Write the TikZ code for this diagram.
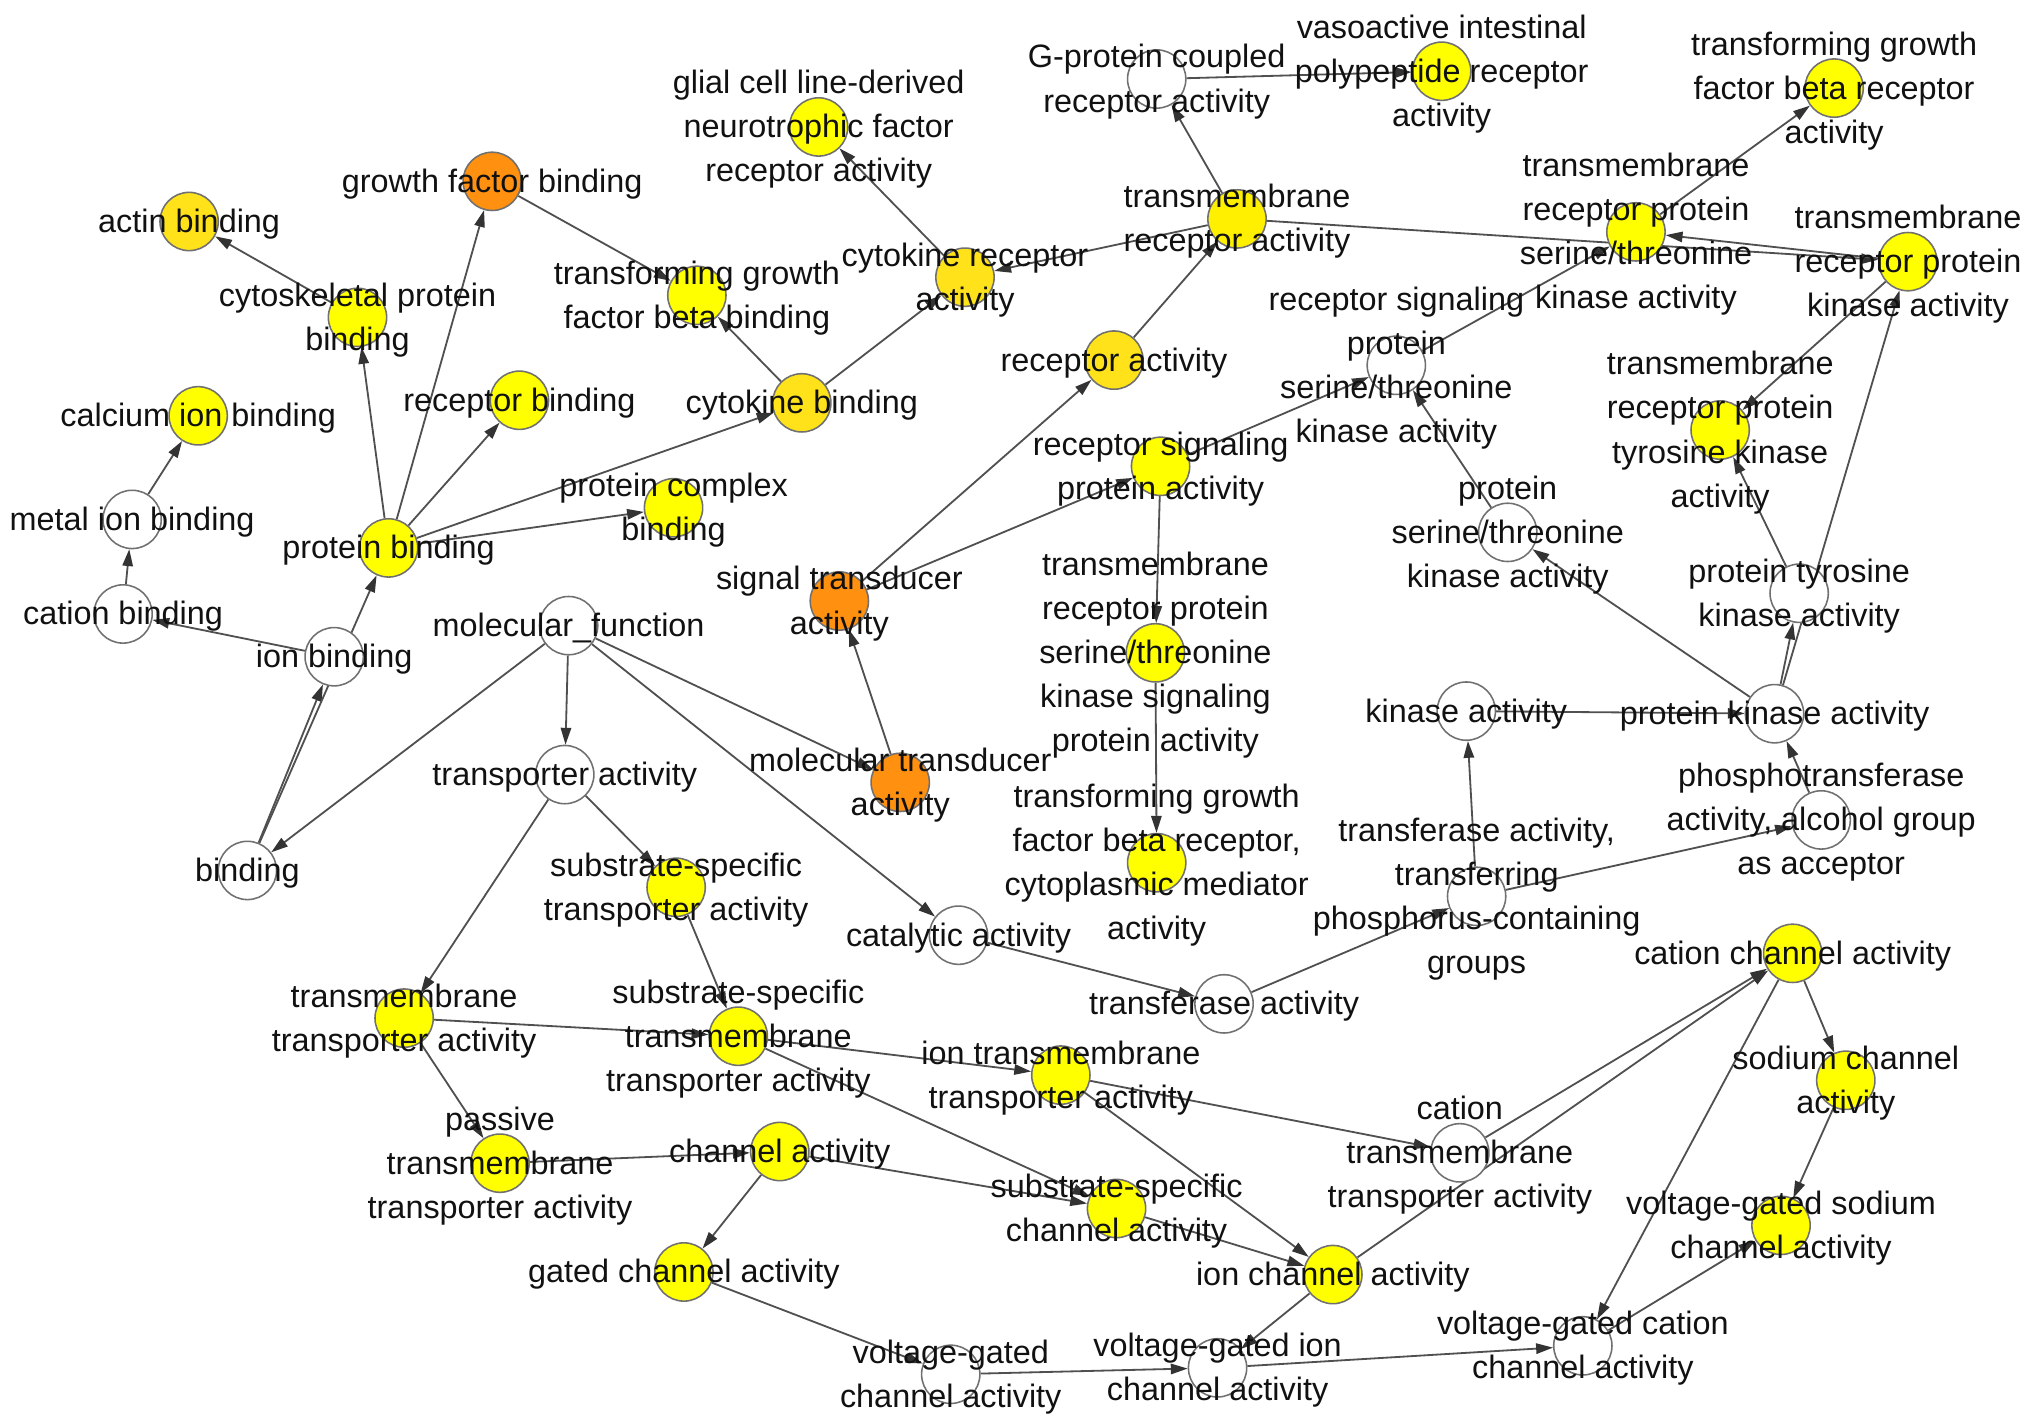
\documentclass[tikz,border=0pt]{standalone}
\usepackage{fontspec}
\setmainfont{Liberation Sans}
\usetikzlibrary{arrows.meta}
\pgfdeclarelayer{bg}\pgfdeclarelayer{fg}\pgfsetlayers{bg,main,fg}
\definecolor{yel}{HTML}{FFFF00}
\definecolor{yelb}{HTML}{FFF000}
\definecolor{gold}{HTML}{FFE21A}
\definecolor{orng}{HTML}{FF9010}
\definecolor{nodeline}{HTML}{707070}
\definecolor{edgec}{HTML}{505050}
\definecolor{txt}{HTML}{111111}
\tikzset{
  go/.style={circle, draw=nodeline, line width=1.2pt, minimum size=45pt, inner sep=0pt},
  wnode/.style={go, fill=white},
  ynode/.style={go, fill=yel},
  bnode/.style={go, fill=yelb},
  gnode/.style={go, fill=gold},
  onode/.style={go, fill=orng},
  lbl/.style={align=center, inner sep=0pt, yshift=-2pt, font=\fontsize{25}{34}\selectfont, text=txt},
  edge/.style={draw=edgec, line width=1.4pt, -{Triangle[length=13pt,width=8pt,color=black!80]}},
}
\newcommand\gonode[4]{%
  \node[#1] (#2) at (#3) {};%
  \begin{pgfonlayer}{fg}\node[lbl] (#2-l) at (#2) {#4};\end{pgfonlayer}}
\begin{document}
\begin{tikzpicture}[x=1pt,y=-1pt]
\useasboundingbox (0,0) rectangle (1568,1101);
\begin{pgfonlayer}{bg}\fill[white] (0,0) rectangle (1568,1101);\end{pgfonlayer}

\gonode{gnode}{actin}{146,171}{actin binding}
\gonode{onode}{gfb}{380,140}{growth factor binding}
\gonode{ynode}{cyto}{276,245}{cytoskeletal protein\\binding}
\gonode{ynode}{calc}{153,321}{calcium ion binding}
\gonode{ynode}{recb}{401,309}{receptor binding}
\gonode{wnode}{metal}{102,401}{metal ion binding}
\gonode{ynode}{pb}{300,423}{protein binding}
\gonode{wnode}{catb}{95,474}{cation binding}
\gonode{wnode}{ionb}{258,507}{ion binding}
\gonode{wnode}{bind}{191,672}{binding}
\gonode{wnode}{mf}{439,483}{molecular\_function}
\gonode{wnode}{transp}{436,598}{transporter activity}
\gonode{ynode}{pcb}{520,392}{protein complex\\binding}
\gonode{ynode}{tgfbb}{538,228}{transforming growth\\factor beta binding}
\gonode{gnode}{cytb}{619,311}{cytokine binding}
\gonode{ynode}{glial}{632,98}{glial cell line-derived\\neurotrophic factor\\receptor activity}
\gonode{gnode}{cytr}{745,214}{cytokine receptor\\activity}
\gonode{wnode}{gpcr}{893,61}{G-protein coupled\\receptor activity}
\gonode{ynode}{vip}{1113,55}{vasoactive intestinal\\polypeptide receptor\\activity}
\gonode{bnode}{tra}{955,169}{transmembrane\\receptor activity}
\gonode{gnode}{ra}{860,278}{receptor activity}
\gonode{onode}{st}{648,464}{signal transducer\\activity}
\gonode{onode}{mt}{695,604}{molecular transducer\\activity}
\gonode{ynode}{rspa}{896,360}{receptor signaling\\protein activity}
\gonode{ynode}{trpsksp}{892,504}{transmembrane\\receptor protein\\serine/threonine\\kinase signaling\\protein activity}
\gonode{ynode}{tgfbrcm}{893,666}{transforming growth\\factor beta receptor,\\cytoplasmic mediator\\activity}
\gonode{wnode}{rspstk}{1078,282}{receptor signaling\\protein\\serine/threonine\\kinase activity}
\gonode{ynode}{trpstk}{1263,179}{transmembrane\\receptor protein\\serine/threonine\\kinase activity}
\gonode{ynode}{tgfbr}{1416,68}{transforming growth\\factor beta receptor\\activity}
\gonode{ynode}{trpk}{1473,202}{transmembrane\\receptor protein\\kinase activity}
\gonode{ynode}{trptk}{1328,332}{transmembrane\\receptor protein\\tyrosine kinase\\activity}
\gonode{wnode}{psk}{1164,411}{protein\\serine/threonine\\kinase activity}
\gonode{wnode}{ptk}{1389,458}{protein tyrosine\\kinase activity}
\gonode{wnode}{ka}{1132,549}{kinase activity}
\gonode{wnode}{pka}{1370,551}{protein kinase activity}
\gonode{wnode}{phos}{1406,633}{phosphotransferase\\activity, alcohol group\\as acceptor}
\gonode{wnode}{ttp}{1140,692}{transferase activity,\\transferring\\phosphorus-containing\\groups}
\gonode{wnode}{cat}{740,722}{catalytic activity}
\gonode{wnode}{trf}{945,775}{transferase activity}
\gonode{ynode}{sst}{522,685}{substrate-specific\\transporter activity}
\gonode{ynode}{tta}{312,786}{transmembrane\\transporter activity}
\gonode{ynode}{sstta}{570,800}{substrate-specific\\transmembrane\\transporter activity}
\gonode{ynode}{itta}{819,830}{ion transmembrane\\transporter activity}
\gonode{ynode}{ptta}{386,898}{passive\\transmembrane\\transporter activity}
\gonode{ynode}{cha}{602,889}{channel activity}
\gonode{ynode}{sca}{862,933}{substrate-specific\\channel activity}
\gonode{ynode}{gca}{528,982}{gated channel activity}
\gonode{ynode}{ica}{1029,984}{ion channel activity}
\gonode{wnode}{ctta}{1127,890}{cation\\transmembrane\\transporter activity}
\gonode{ynode}{cca}{1384,736}{cation channel activity}
\gonode{ynode}{sod}{1425,834}{sodium channel\\activity}
\gonode{ynode}{vgsc}{1375,946}{voltage-gated sodium\\channel activity}
\gonode{wnode}{vgcc}{1222,1039}{voltage-gated cation\\channel activity}
\gonode{wnode}{vgic}{940,1056}{voltage-gated ion\\channel activity}
\gonode{wnode}{vgc}{734,1061}{voltage-gated\\channel activity}

\begin{pgfonlayer}{bg}
\draw[edge] (cyto) -- (actin);
\draw[edge] (pb) -- (cyto);
\draw[edge] (pb) -- (gfb);
\draw[edge] (pb) -- (recb);
\draw[edge] (pb) -- (pcb);
\draw[edge] (pb) -- (cytb);
\draw[edge] (gfb) -- (tgfbb);
\draw[edge] (metal) -- (calc);
\draw[edge] (catb) -- (metal);
\draw[edge] (ionb) -- (catb);
\draw[edge] (bind) -- (ionb);
\draw[edge] (bind) -- (pb);
\draw[edge] (mf) -- (bind);
\draw[edge] (mf) -- (transp);
\draw[edge] (mf) -- (cat);
\draw[edge] (mf) -- (mt);
\draw[edge] (mt) -- (st);
\draw[edge] (st) -- (ra);
\draw[edge] (st) -- (rspa);
\draw[edge] (ra) -- (tra);
\draw[edge] (cytb) -- (tgfbb);
\draw[edge] (cytb) -- (cytr);
\draw[edge] (cytr) -- (glial);
\draw[edge] (tra) -- (cytr);
\draw[edge] (tra) -- (gpcr);
\draw[edge] (gpcr) -- (vip);
\draw[edge] (tra) -- (trpk);
\draw[edge] (trpk) -- (trpstk);
\draw[edge] (trpk) -- (trptk);
\draw[edge] (trpstk) -- (tgfbr);
\draw[edge] (rspstk) -- (trpstk);
\draw[edge] (rspa) -- (rspstk);
\draw[edge] (psk) -- (rspstk);
\draw[edge] (pka) -- (psk);
\draw[edge] (pka) -- (ptk);
\draw[edge] (pka) -- (trpk);
\draw[edge] (ptk) -- (trptk);
\draw[edge] (rspa) -- (trpsksp);
\draw[edge] (trpsksp) -- (tgfbrcm);
\draw[edge] (ka) -- (pka);
\draw[edge] (ttp) -- (ka);
\draw[edge] (ttp) -- (phos);
\draw[edge] (phos) -- (pka);
\draw[edge] (trf) -- (ttp);
\draw[edge] (cat) -- (trf);
\draw[edge] (transp) -- (sst);
\draw[edge] (transp) -- (tta);
\draw[edge] (sst) -- (sstta);
\draw[edge] (tta) -- (sstta);
\draw[edge] (tta) -- (ptta);
\draw[edge] (ptta) -- (cha);
\draw[edge] (cha) -- (gca);
\draw[edge] (cha) -- (sca);
\draw[edge] (sstta) -- (sca);
\draw[edge] (sstta) -- (itta);
\draw[edge] (itta) -- (ica);
\draw[edge] (itta) -- (ctta);
\draw[edge] (sca) -- (ica);
\draw[edge] (ctta) -- (cca);
\draw[edge] (ica) -- (cca);
\draw[edge] (cca) -- (sod);
\draw[edge] (sod) -- (vgsc);
\draw[edge] (cca) -- (vgcc);
\draw[edge] (vgcc) -- (vgsc);
\draw[edge] (ica) -- (vgic);
\draw[edge] (vgic) -- (vgcc);
\draw[edge] (gca) -- (vgc);
\draw[edge] (vgc) -- (vgic);
\end{pgfonlayer}
\end{tikzpicture}
\end{document}
